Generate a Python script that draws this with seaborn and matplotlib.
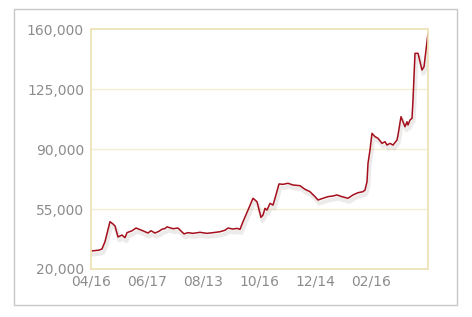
import matplotlib
matplotlib.use("Agg")
import matplotlib.pyplot as plt
import matplotlib.patheffects as pe
from matplotlib.patches import Rectangle
import seaborn as sns
import pandas as pd

# data: point index (trading-day position) and value
idx = [0, 8, 11, 14, 19, 22, 24, 27, 31, 34, 36, 41, 45, 50, 57, 60, 64, 68, 71, 74,
       76, 82, 87, 93, 97, 102, 109, 116, 122, 129, 134, 137, 142, 146, 149, 152, 157,
       162, 166, 170, 172, 174, 176, 179, 182, 184, 188, 192, 197, 202, 209, 214, 219,
       224, 227, 232, 237, 242, 246, 251, 257, 262, 267, 272, 274, 276, 277, 279, 281,
       284, 287, 291, 294, 296, 299, 302, 306, 307, 310, 312, 314, 316, 317, 319, 321,
       322, 324, 327, 331, 333, 335, 337]
values = [30500, 31000, 31700, 36000, 47600, 46250, 45100, 38700, 39800, 38300, 41200,
          42300, 43900, 42750, 41000, 42300, 41000, 42000, 43200, 43600, 44600, 43500,
          43900, 40500, 41200, 40800, 41400, 40800, 41200, 41750, 42600, 43900, 43300,
          43700, 43150, 47600, 54400, 61250, 59250, 50150, 51500, 55400, 54400, 58300,
          57300, 61250, 69600, 69400, 70000, 69000, 68600, 66500, 65100, 62200, 60250,
          61250, 62200, 62600, 63200, 62200, 61250, 63200, 64500, 65100, 66100, 70900,
          81650, 89400, 99150, 97200, 96250, 93300, 94250, 92300, 93300, 92300, 95250,
          98150, 108850, 105900, 103000, 105900, 104000, 106900, 107900, 118600, 145800,
          145800, 136100, 138000, 147750, 157500]
tick_pos = [0, 56, 112, 168, 224, 280]
tick_labels = ["04/16", "06/17", "08/13", "10/16", "12/14", "02/16"]
y_ticks = [20000, 55000, 90000, 125000, 160000]

df = pd.DataFrame({"idx": idx, "value": values})

sns.set_style("white")
plt.rcParams['font.family'] = ['DejaVu Sans']

fig = plt.figure(figsize=(4.72, 3.17), dpi=100)
fig.patch.set_facecolor("white")
fig.patches.append(Rectangle((14 / 472, 1 - 305 / 317), (457 - 14) / 472, (305 - 9) / 317,
                             transform=fig.transFigure, fill=False,
                             edgecolor="#c8c8c8", linewidth=1.0))

ax = fig.add_axes([91 / 472, 1 - 269 / 317, (428 - 91) / 472, (269 - 29) / 317])
sns.lineplot(data=df, x="idx", y="value", ax=ax, color="#a50f1c", linewidth=1.1,
             path_effects=[pe.SimpleLineShadow(offset=(1, -2.5), shadow_color="#a09090", alpha=0.18,
                                               linewidth=3),
                           pe.Normal()])

ax.set_xlim(0, 337)
ax.set_ylim(20000, 160000)
ax.set_yticks(y_ticks)
ax.set_yticklabels([f"{v:,}" for v in y_ticks])
ax.set_xticks(tick_pos)
ax.set_xticklabels(tick_labels)
ax.set_xlabel("")
ax.set_ylabel("")
for y in y_ticks[1:-1]:
    ax.axhline(y, color="#f2ecd2", linewidth=1.0, zorder=0)
for s in ax.spines.values():
    s.set_color("#ece2b4")
    s.set_linewidth(1.2)
ax.tick_params(axis="both", length=0, labelsize=10, labelcolor="#8c8c8c")
ax.tick_params(axis="y", pad=5)
ax.tick_params(axis="x", pad=4)

fig.savefig("out.png", dpi=100)
